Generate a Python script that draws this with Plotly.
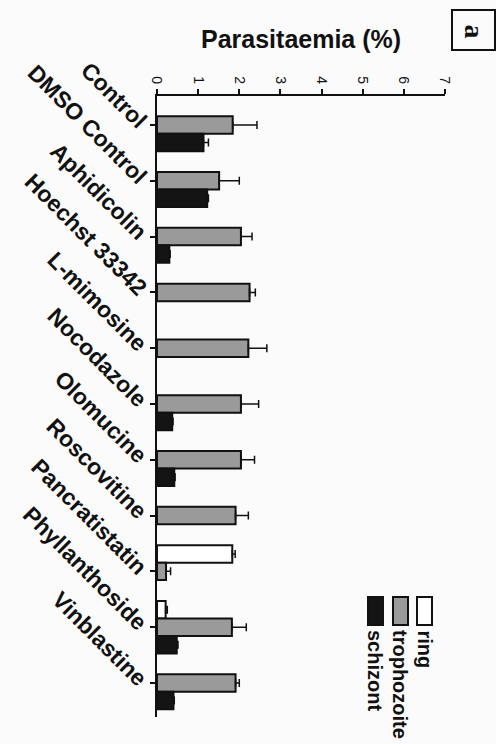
import plotly.graph_objects as go

# Treatments (top to bottom) and parasitaemia by stage (%)
treatments = ["Control", "DMSO Control", "Aphidicolin", "Hoechst 33342", "L-mimosine",
              "Nocodazole", "Olomucine", "Roscovitine", "Pancratistatin",
              "Phyllanthoside", "Vinblastine"]

ring = [None, None, None, None, None, None, None, None, 1.83, 0.21, None]
ring_err = [0, 0, 0, 0, 0, 0, 0, 0, 0.07, 0.04, 0]

trophozoite = [1.84, 1.51, 2.04, 2.25, 2.22, 2.04, 2.04, 1.91, 0.22, 1.82, 1.91]
trophozoite_err = [0.59, 0.49, 0.27, 0.14, 0.45, 0.43, 0.33, 0.31, 0.11, 0.35, 0.09]

schizont = [1.13, 1.22, 0.30, None, None, 0.37, 0.42, None, None, 0.48, 0.40]
schizont_err = [0.12, 0.03, 0.02, 0, 0, 0.02, 0.02, 0, 0, 0.03, 0.02]

x_ticks = [0, 1, 2, 3, 4, 5, 6, 7]

stages = [
    ("ring", ring, ring_err, "#ffffff"),
    ("trophozoite", trophozoite, trophozoite_err, "#9a9a9a"),
    ("schizont", schizont, schizont_err, "#141414"),
]

FONT = "Arial, Liberation Sans, Helvetica, sans-serif"

fig = go.Figure()
for name, vals, errs, color in stages:
    fig.add_trace(go.Bar(
        name=name, y=treatments, x=vals, orientation="h",
        marker=dict(color=color, line=dict(color="#111111", width=2)),
        error_x=dict(type="data", array=errs, arrayminus=[0] * len(errs),
                     symmetric=False, color="#111111", thickness=1.5, width=4),
        showlegend=False,
    ))

# plot area in pixels
W, H = 496, 744
L, R, T, B = 157, 445, 96, 717


def px(x):
    return (x - L) / (R - L)


def py(y):
    return (B - y) / (B - T)


shapes = []
annotations = []

# panel letter box
shapes.append(dict(type="rect", xref="paper", yref="paper",
                   x0=px(452), x1=px(495), y0=py(50), y1=py(10),
                   line=dict(color="#111111", width=2), fillcolor="rgba(0,0,0,0)"))
annotations.append(dict(text="a", xref="paper", yref="paper", x=px(473.5), y=py(31),
                        xanchor="center", yanchor="middle",
                        showarrow=False, textangle=90,
                        font=dict(family="Liberation Serif, Times New Roman, serif",
                                  size=28, color="#111111", weight="bold")))

# axis title
annotations.append(dict(text="Parasitaemia (%)", xref="paper", yref="paper",
                        x=px(301), y=py(39), xanchor="center", yanchor="middle",
                        showarrow=False,
                        font=dict(family=FONT, size=25, color="#111111", weight="bold")))

# stage key: swatches with rotated labels
key = [("ring", "#ffffff", 417), ("trophozoite", "#9a9a9a", 393), ("schizont", "#141414", 368)]
for label, color, x0 in key:
    shapes.append(dict(type="rect", xref="paper", yref="paper",
                       x0=px(x0), x1=px(x0 + 15), y0=py(625), y1=py(597),
                       line=dict(color="#111111", width=2), fillcolor=color))
    annotations.append(dict(text=label, xref="paper", yref="paper",
                            x=px(x0 + 7.5), y=py(628), xanchor="center", yanchor="top",
                            showarrow=False, textangle=90,
                            font=dict(family=FONT, size=20, color="#111111", weight="bold")))

fig.update_layout(
    width=W, height=H,
    margin=dict(l=L, r=W - R, t=T, b=H - B, pad=0),
    paper_bgcolor="#fbfbfb", plot_bgcolor="#fbfbfb",
    barmode="group", bargap=0.06, bargroupgap=0,
    shapes=shapes, annotations=annotations,
    xaxis=dict(side="top", range=[0, 7], tickvals=x_ticks, ticktext=[str(v) for v in x_ticks],
               tickangle=90, ticks="outside", ticklen=5, tickwidth=2, tickcolor="#111111",
               showline=True, linewidth=2, linecolor="#111111", showgrid=False, zeroline=False,
               tickfont=dict(family=FONT, size=14, color="#111111")),
    yaxis=dict(type="category", range=[10.61, -0.52], tickangle=45,
               ticks="outside", ticklen=5, tickwidth=2, tickcolor="#111111",
               showline=True, linewidth=2, linecolor="#111111", showgrid=False, zeroline=False,
               tickfont=dict(family=FONT, size=23, color="#111111", weight="bold")),
)

fig.write_html("out.html")
